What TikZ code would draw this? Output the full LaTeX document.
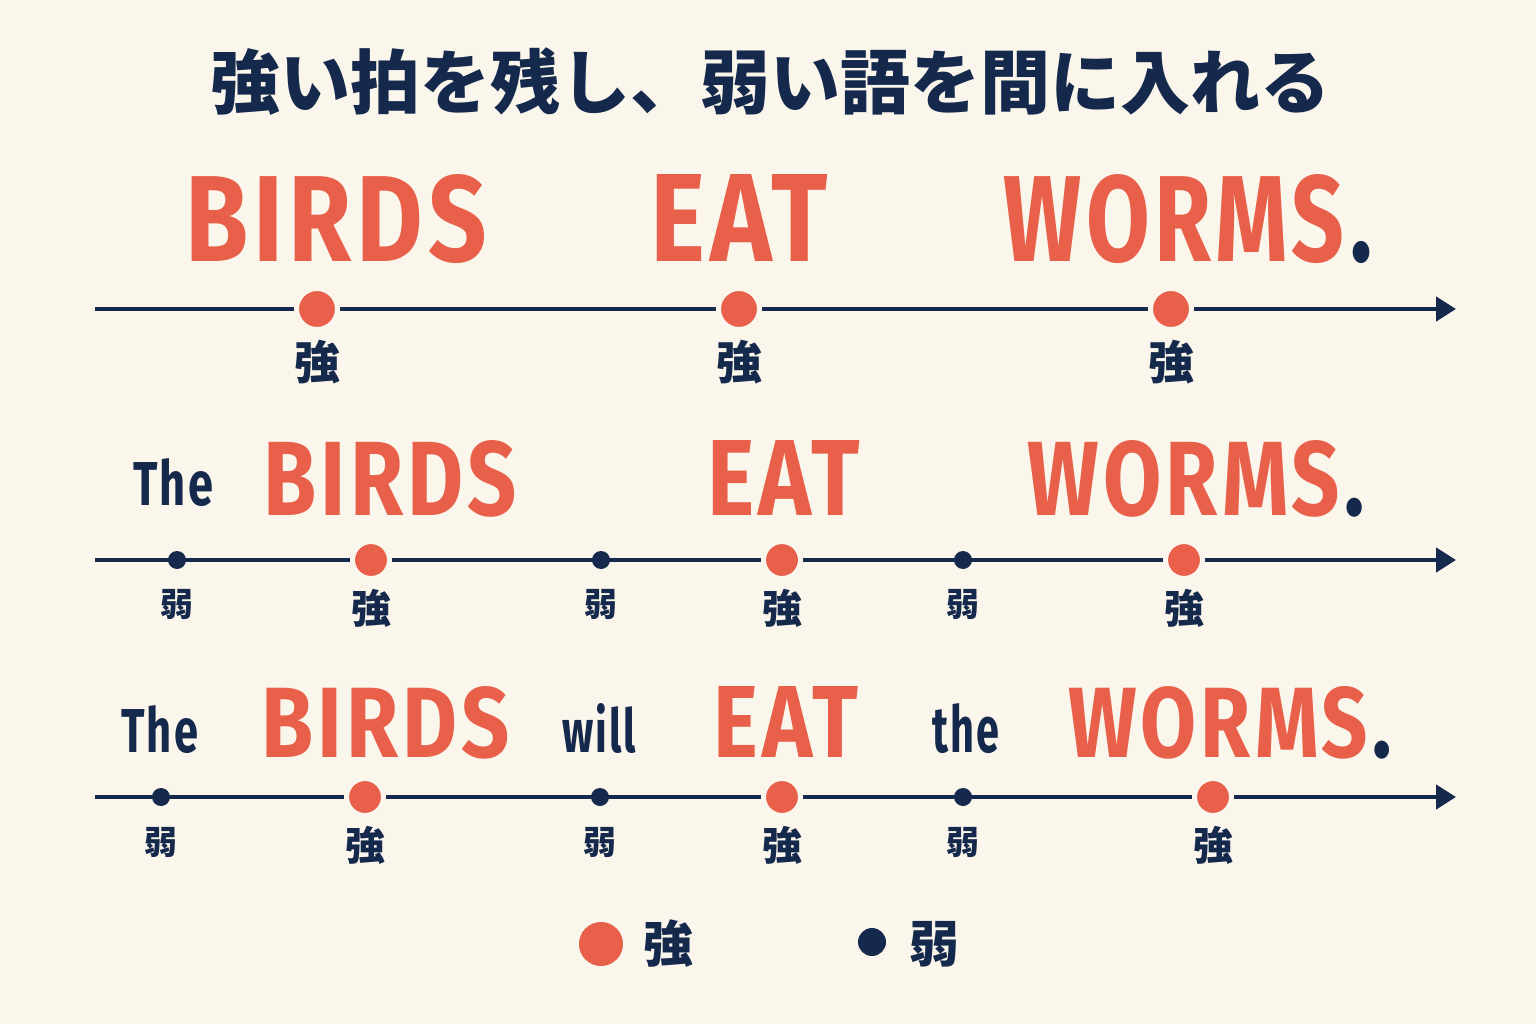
\documentclass[tikz,border=0pt]{standalone}
\usepackage{fontspec}
\usetikzlibrary{arrows.meta}
\newfontfamily\cjk{Noto Sans CJK JP}
\newfontfamily\engfont{Fira Sans}[LetterSpace=5]
\definecolor{bgc}{HTML}{FBF6EC}
\definecolor{navy}{HTML}{15294D}
\definecolor{accent}{HTML}{E8604A}
\newcommand{\fitword}[3]{\resizebox{#1pt}{#2pt}{\engfont\bfseries\fontsize{100}{100}\selectfont #3}}
\newcommand{\navydot}{\kern6pt\textcolor{navy}{.}}
\tikzset{
  bigword/.style={inner sep=0, anchor=base west, text=accent},
  smallword/.style={inner sep=0, anchor=base west, text=navy},
  strongdot/.style={circle, fill=accent, draw=bgc, line width=5pt, inner sep=0, minimum size=#1},
  strongdot/.default=37pt,
  weakdot/.style={circle, fill=navy, inner sep=0, minimum size=18pt},
  timeline/.style={draw=navy, line width=4.5pt, -{Triangle[length=20pt,width=24pt]}},
  lab/.style={text=navy, inner sep=0, font={\cjk\bfseries\fontsize{#1}{#1}\selectfont}},
  lab/.default=40,
}
\begin{document}
\begin{tikzpicture}[x=1pt,y=-1pt]
\fill[bgc] (0,0) rectangle (1536,1024);
\useasboundingbox (0,0) rectangle (1536,1024);
% title
\node[text=navy, inner sep=0, font={\cjk\bfseries\fontsize{70}{70}\selectfont}] (title) at (770,82) {強い拍を残し、弱い語を間に入れる};

% row 1
\node[bigword] (r1w1) at (185,262) {\fitword{302}{87}{BIRDS}};
\node[bigword] (r1w2) at (650,262) {\fitword{178}{87}{EAT}};
\node[bigword] (r1w3) at (1003,262) {\fitword{369}{87}{WORMS\navydot}};
\coordinate (r1s) at (95,309);
\coordinate (r1e) at (1456,309);
\draw[timeline] (r1s) -- (r1e);
\node[strongdot=41pt] (r1d1) at (317,309) {};
\node[strongdot=41pt] (r1d2) at (739,309) {};
\node[strongdot=41pt] (r1d3) at (1171,309) {};
\node[lab=46] (r1l1) at (317,362) {強};
\node[lab=46] (r1l2) at (739,362) {強};
\node[lab=46] (r1l3) at (1171,362) {強};

% row 2
\node[smallword] (r2w0) at (133,505) {\fitword{80}{47}{The}};
\node[bigword] (r2w1) at (263,515) {\fitword{254}{75}{BIRDS}};
\node[bigword] (r2w2) at (707,515) {\fitword{153}{75}{EAT}};
\node[bigword] (r2w3) at (1027,515) {\fitword{338}{75}{WORMS\navydot}};
\coordinate (r2s) at (95,560);
\coordinate (r2e) at (1456,560);
\draw[timeline] (r2s) -- (r2e);
\node[weakdot] (r2d0) at (177,560) {};
\node[strongdot] (r2d1) at (371,560) {};
\node[weakdot] (r2d2) at (601,560) {};
\node[strongdot] (r2d3) at (782,560) {};
\node[weakdot] (r2d4) at (963,560) {};
\node[strongdot] (r2d5) at (1184,560) {};
\node[lab=33] (r2l0) at (177,604) {弱};
\node[lab=40] (r2l1) at (371,608) {強};
\node[lab=33] (r2l2) at (601,604) {弱};
\node[lab=40] (r2l3) at (782,608) {強};
\node[lab=33] (r2l4) at (963,604) {弱};
\node[lab=40] (r2l5) at (1184,608) {強};

% row 3
\node[smallword] (r3w0) at (121,752) {\fitword{77}{47}{The}};
\node[bigword] (r3w1) at (261,757) {\fitword{249}{71}{BIRDS}};
\node[smallword] (r3w2) at (562,752) {\fitword{74}{49}{will}};
\node[bigword] (r3w3) at (713,757) {\fitword{145}{71}{EAT}};
\node[smallword] (r3w4) at (932,752) {\fitword{67}{49}{the}};
\node[bigword] (r3w5) at (1068,757) {\fitword{324}{71}{WORMS\navydot}};
\coordinate (r3s) at (95,797);
\coordinate (r3e) at (1456,797);
\draw[timeline] (r3s) -- (r3e);
\node[weakdot] (r3d0) at (161,797) {};
\node[strongdot] (r3d1) at (365,797) {};
\node[weakdot] (r3d2) at (600,797) {};
\node[strongdot] (r3d3) at (782,797) {};
\node[weakdot] (r3d4) at (963,797) {};
\node[strongdot] (r3d5) at (1213,797) {};
\node[lab=33] (r3l0) at (161,842) {弱};
\node[lab=40] (r3l1) at (365,845) {強};
\node[lab=33] (r3l2) at (600,842) {弱};
\node[lab=40] (r3l3) at (782,845) {強};
\node[lab=33] (r3l4) at (963,842) {弱};
\node[lab=40] (r3l5) at (1213,845) {強};

% legend
\node[circle, fill=accent, inner sep=0, minimum size=44pt] (legs) at (601,944) {};
\node[lab=50] (legsl) at (668,944) {強};
\node[circle, fill=navy, inner sep=0, minimum size=28pt] (legw) at (872,942) {};
\node[lab=50] (legwl) at (934,944) {弱};
\end{tikzpicture}
\end{document}
